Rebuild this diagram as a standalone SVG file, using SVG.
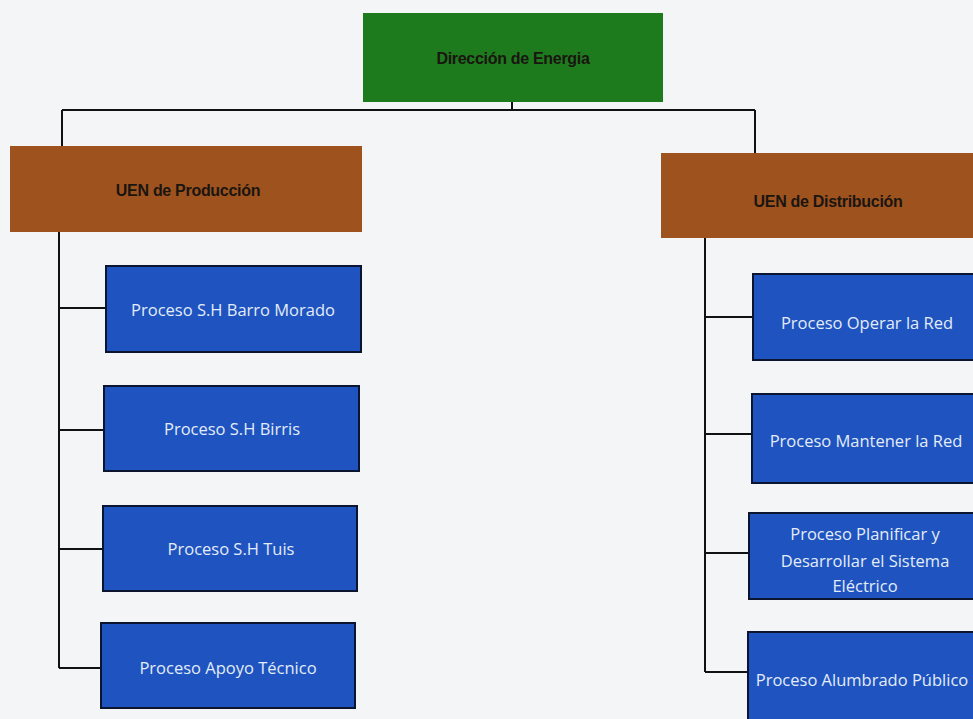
<svg xmlns="http://www.w3.org/2000/svg" width="973" height="719" viewBox="0 0 973 719">
<style>
.bg{fill:#f3f5f7}
.top{fill:#1d7b1d;stroke:none}
.uen{fill:#9e531f;stroke:none}
.proc{fill:#1e53c0;stroke:#0b1530;stroke-width:2}
.bt{font-family:"Liberation Sans",Arial,sans-serif;font-weight:bold;font-size:16px;fill:#1a1510;text-anchor:middle;letter-spacing:-0.3px}
.pt{font-family:"Open Sans","Liberation Sans",sans-serif;font-size:16.5px;fill:#e3ecf7;text-anchor:middle}
.ln{stroke:#111;stroke-width:2;fill:none}
</style>
<rect class="bg" width="973" height="719"/>
<g id="connectors">
<path class="ln" d="M512 101 V110 M62 110 H755 M62 110 V146 M755 110 V153"/>
<path class="ln" d="M59 232 V668 M59 308 H106 M59 430 H104 M59 549 H103 M59 668 H101"/>
<path class="ln" d="M705 238 V672 M705 317 H753 M705 434 H752 M705 553 H749 M705 672 H748"/>
</g>
<g id="direccion">
<rect class="top" x="363" y="13" width="300" height="89"/>
<text class="bt" x="513" y="64">Dirección de Energia</text>
</g>
<g id="uen-produccion">
<rect class="uen" x="10" y="146" width="352" height="86"/>
<text class="bt" x="188" y="196">UEN de Producción</text>
</g>
<g id="uen-distribucion">
<rect class="uen" x="661" y="153" width="314" height="85"/>
<text class="bt" x="828" y="207">UEN de Distribución</text>
</g>
<g id="p-barro">
<rect class="proc" x="106" y="266" width="255" height="86"/>
<text class="pt" x="233" y="316">Proceso S.H Barro Morado</text>
</g>
<g id="p-birris">
<rect class="proc" x="104" y="386" width="255" height="85"/>
<text class="pt" x="232" y="435">Proceso S.H Birris</text>
</g>
<g id="p-tuis">
<rect class="proc" x="103" y="506" width="254" height="85"/>
<text class="pt" x="231" y="555">Proceso S.H Tuis</text>
</g>
<g id="p-apoyo">
<rect class="proc" x="101" y="623" width="254" height="85"/>
<text class="pt" x="228" y="674">Proceso Apoyo Técnico</text>
</g>
<g id="p-operar">
<rect class="proc" x="753" y="274" width="222" height="86"/>
<text class="pt" x="867" y="329">Proceso Operar la Red</text>
</g>
<g id="p-mantener">
<rect class="proc" x="752" y="394" width="223" height="89"/>
<text class="pt" x="866" y="447">Proceso Mantener la Red</text>
</g>
<g id="p-planificar">
<rect class="proc" x="749" y="513" width="226" height="86"/>
<text class="pt" x="865" y="540">Proceso Planificar y</text>
<text class="pt" x="865" y="567">Desarrollar el Sistema</text>
<text class="pt" x="865" y="592">Eléctrico</text>
</g>
<g id="p-alumbrado">
<rect class="proc" x="748" y="632" width="227" height="90"/>
<text class="pt" x="862" y="686">Proceso Alumbrado Público</text>
</g>
</svg>
